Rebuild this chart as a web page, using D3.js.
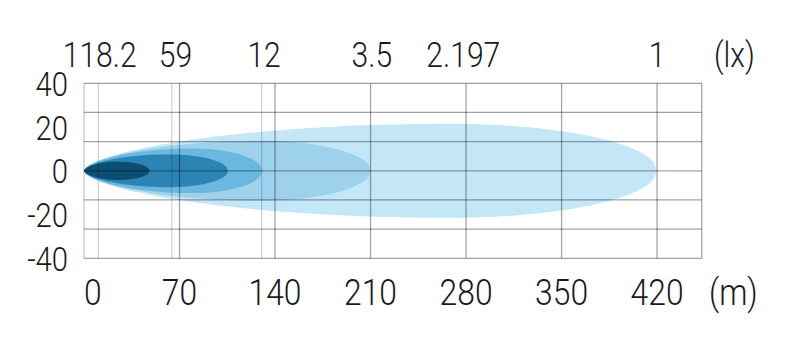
<!DOCTYPE html>
<html>
<head>
<meta charset="utf-8">
<script src="https://cdn.jsdelivr.net/npm/d3@7"></script>
<style>
  html, body { margin: 0; padding: 0; background: #fff; }
  svg { display: block; }
  text { font-family: Roboto, "Open Sans", sans-serif; font-weight: 300; fill: #1a1a1a; }
</style>
</head>
<body>
<svg id="chart" width="800" height="339"></svg>
<script>
// ---- data ----
const distanceTicks = [0, 70, 140, 210, 280, 350, 420];          // m
const angleTicks = [40, 20, 0, -20, -40];                        // degrees
const gridAngles = [40, 26.67, 13.33, 0, -13.33, -26.67, -40];   // horizontal grid
const luxLabels = ["118.2", "59", "12", "3.5", "2.197", "1"];
const luxLabelDistances = [11.5, 67, 132, 211, 278, 420];        // m
const luxLineDistances = [10.5, 64.3, 130.2];                    // faint lux lines
// beam zones (largest first)
const beamLengths = [420, 210, 130.5, 105.5, 48];                // m
const beamHalfWidths = [21.5, 13.7, 10.2, 7.5, 4.2];             // degrees
const beamPeaks = [268, 130, 80, 62, 25];                        // m, position of max width
const beamColors = ["#c4e7f8", "#9ed2ec", "#6ab7df", "#2b84b4", "#0c4f72"];

// ---- layout ----
const svg = d3.select("#chart");
const mLeft = 84, mRight = 701.7, mTop = 83.3, mBottom = 258.3;
const x = d3.scaleLinear().domain([0, 452.7]).range([mLeft, mRight]);
const y = d3.scaleLinear().domain([-40, 40]).range([mBottom, mTop]);
const SX = 0.86;

// beam shapes
function beamPoints(L, W, P) {
  const pts = [];
  const n = 60;
  for (let i = 0; i <= n; i++) {
    const d = P * i / n;
    const u = (P - d) / P;
    pts.push([d, W * Math.pow(Math.max(0, 1 - u * u), 0.6)]);
  }
  for (let i = 1; i <= n; i++) {
    const d = P + (L - P) * i / n;
    const v = (d - P) / (L - P);
    pts.push([d, W * Math.sqrt(Math.max(0, 1 - v * v))]);
  }
  const lower = pts.slice().reverse().map(p => [p[0], -p[1]]);
  return pts.concat(lower);
}
const line = d3.line().x(d => x(d[0])).y(d => y(d[1])).curve(d3.curveLinearClosed);

svg.append("g").selectAll("path")
  .data(beamLengths.map((L, i) => ({L, W: beamHalfWidths[i], P: beamPeaks[i], c: beamColors[i]})))
  .join("path")
  .attr("d", d => line(beamPoints(d.L, d.W, d.P)))
  .attr("fill", d => d.c);

// grid
const grid = svg.append("g").attr("fill", "none");
grid.selectAll("line.h").data(gridAngles).join("line")
  .attr("x1", mLeft).attr("x2", mRight)
  .attr("y1", d => y(d)).attr("y2", d => y(d))
  .attr("stroke", "#000").attr("stroke-opacity", 0.36).attr("stroke-width", 1.3);
grid.selectAll("line.v").data(distanceTicks.slice(1).concat([452.7])).join("line")
  .attr("x1", d => x(d)).attr("x2", d => x(d))
  .attr("y1", mTop).attr("y2", mBottom)
  .attr("stroke", "#000").attr("stroke-opacity", 0.36).attr("stroke-width", 1.3);
grid.selectAll("line.lux").data(luxLineDistances).join("line")
  .attr("x1", d => x(d)).attr("x2", d => x(d))
  .attr("y1", mTop).attr("y2", mBottom)
  .attr("stroke", "#000").attr("stroke-opacity", 0.18).attr("stroke-width", 1.2);
grid.append("line").attr("x1", mLeft).attr("x2", mLeft).attr("y1", mTop).attr("y2", mBottom)
  .attr("stroke", "#000").attr("stroke-opacity", 0.22).attr("stroke-width", 1.3);

// helper for condensed text
function label(g, tx, ty, size, anchor, str) {
  g.append("text")
    .attr("transform", `translate(${tx},${ty}) scale(${SX},1)`)
    .attr("text-anchor", anchor)
    .attr("font-size", size)
    .text(str);
}

// x axis labels
const gx = svg.append("g");
distanceTicks.forEach((d, i) => label(gx, x(d), 305, 37, i === 0 ? "start" : "middle", d));
label(gx, 709, 305, 37, "start", "(m)");

// y axis labels
const gy = svg.append("g");
angleTicks.forEach(d => label(gy, 68, y(d) + 12.5, 34, "end", d));

// lux labels
const gl = svg.append("g");
luxLabels.forEach((d, i) => label(gl, x(luxLabelDistances[i]), 67, 35, "middle", d));
label(gl, 714, 67, 35, "start", "(lx)");
</script>
</body>
</html>
